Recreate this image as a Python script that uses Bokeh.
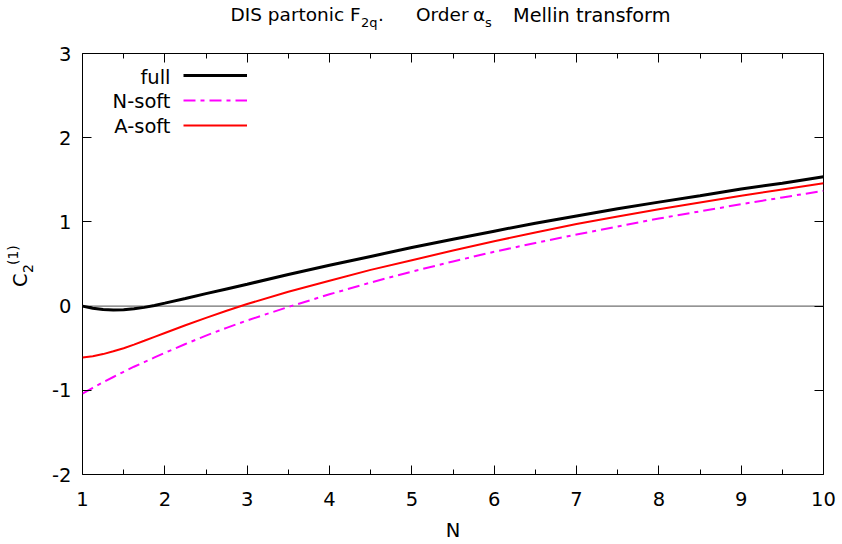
from bokeh.plotting import figure
from bokeh.layouts import column, row
from bokeh.models import (Range1d, FixedTicker, LinearAxis, Span, Label,
                          Legend, LegendItem, Div)
from bokeh.core.properties import value
from bokeh.embed import file_html
from bokeh.resources import INLINE

# ---------------- data ----------------
N = [1, 1.125, 1.25, 1.375, 1.5, 1.625, 1.75, 1.875, 2, 2.25, 2.5, 2.75, 3,
     3.5, 4, 4.5, 5, 5.5, 6, 6.5, 7, 7.5, 8, 8.5, 9, 9.5, 10]
full = [0.0, -0.025, -0.04, -0.046, -0.042, -0.031, -0.015, 0.008, 0.035,
        0.09, 0.148, 0.204, 0.26, 0.375, 0.485, 0.59, 0.695, 0.795, 0.89,
        0.985, 1.07, 1.155, 1.235, 1.31, 1.39, 1.46, 1.535]
n_soft = [-1.04, -0.97, -0.905, -0.842, -0.78, -0.72, -0.665, -0.61, -0.555,
          -0.45, -0.35, -0.258, -0.17, -0.01, 0.14, 0.28, 0.41, 0.53, 0.645,
          0.75, 0.85, 0.945, 1.04, 1.125, 1.21, 1.29, 1.37]
a_soft = [-0.61, -0.595, -0.57, -0.537, -0.50, -0.457, -0.412, -0.366, -0.32,
          -0.228, -0.14, -0.055, 0.025, 0.17, 0.30, 0.43, 0.545, 0.66, 0.77,
          0.875, 0.975, 1.065, 1.15, 1.23, 1.31, 1.385, 1.46]
series_names = ["full", "N-soft", "A-soft"]

x_ticks = [1, 2, 3, 4, 5, 6, 7, 8, 9, 10]
x_minor_ticks = [1.5, 2.5, 3.5, 4.5, 5.5, 6.5, 7.5, 8.5, 9.5]
x_tick_labels = ["1", "2", "3", "4", "5", "6", "7", "8", "9", "10"]
y_ticks = [-2, -1, 0, 1, 2, 3]
y_tick_labels = ["-2", "-1", "0", "1", "2", "3"]

x_label = "N"
# y label pieces: (text, kind)  kind: base / sub / sup
y_label_pieces = [("C", "base"), ("2", "sub"), ("(1)", "sup")]
# title pieces: (text, is_subscript)
title_pieces = [("DIS partonic F", False), ("2q", True), (".", False),
                ("Order", False), ("\u03b1", False), ("s", True),
                ("Mellin transform", False)]

FONT = "DejaVu Sans"
TICK_FS = "19.5px"
TITLE_H = 40
YLAB_W = 40

# ---------------- title (HTML, with real subscripts) ----------------
title_left = [230.5, 361, 378, 416, 473, 485, 513]
spans = []
for (txt, sub), left in zip(title_pieces, title_left):
    if sub:
        fs, top = 13, 15.5
    else:
        fs, top = 18.5, 6.3
    if txt == "Mellin transform":
        fs = 19.3
    spans.append(
        f'<span style="position:absolute;left:{left}px;top:{top}px;'
        f'font-size:{fs}px;line-height:1;white-space:pre;">{txt}</span>')
title_div = Div(
    text=('<div style="position:relative;width:842px;height:%dpx;'
          'font-family:\'DejaVu Sans\';color:#000;">' % TITLE_H)
         + "".join(spans) + "</div>",
    width=842, height=TITLE_H, margin=0)

# ---------------- y axis label (HTML, rotated, with sub/superscript) -------
# (font px, left px, top px) of each rotated piece inside the label box
ylab_geom = {"base": (19.5, 10.5, 247), "sub": (14, 21.2, 232.5),
             "sup": (14, 6.2, 225)}
yspans = []
for txt, kind in y_label_pieces:
    fs, left, top = ylab_geom[kind]
    yspans.append(
        f'<span style="position:absolute;left:{left}px;top:{top}px;'
        f'font-size:{fs}px;line-height:1;white-space:pre;'
        f'transform-origin:0 0;transform:rotate(-90deg);">{txt}</span>')
ylab_div = Div(
    text=('<div style="position:relative;width:%dpx;height:%dpx;'
          'font-family:\'DejaVu Sans\';color:#000;">' % (YLAB_W, 544 - TITLE_H))
         + "".join(yspans) + "</div>",
    width=YLAB_W, height=544 - TITLE_H, margin=0)

# ---------------- figure ----------------
p = figure(width=842 - YLAB_W, height=544 - TITLE_H, output_backend="svg",
           toolbar_location=None,
           x_range=Range1d(1, 10), y_range=Range1d(-2, 3),
           x_axis_type=None, y_axis_type=None,
           min_border_left=82 - YLAB_W, min_border_right=19,
           min_border_top=53 - TITLE_H, min_border_bottom=70)
p.xgrid.visible = False
p.ygrid.visible = False
p.outline_line_color = "black"
p.outline_line_width = 1
p.background_fill_color = "white"
p.border_fill_color = "white"


def make_axis(ticks, minor, labels, show, standoff=12):
    ax = LinearAxis(ticker=FixedTicker(ticks=ticks, minor_ticks=minor))
    ax.axis_line_color = None
    ax.major_tick_in = 9
    ax.major_tick_out = 0
    ax.minor_tick_in = 5
    ax.minor_tick_out = 0
    ax.major_tick_line_color = "black"
    ax.minor_tick_line_color = "black"
    ax.major_tick_line_width = 1
    ax.minor_tick_line_width = 1
    ax.major_label_text_font = FONT
    ax.major_label_text_color = "black"
    ax.major_label_text_font_style = "normal"
    ax.axis_label_text_font = FONT
    ax.axis_label_text_font_style = "normal"
    ax.axis_label_text_color = "black"
    ax.axis_label_text_font_size = TICK_FS
    if show:
        ax.major_label_text_font_size = TICK_FS
        ax.major_label_overrides = {t: l for t, l in zip(ticks, labels)}
        ax.major_label_standoff = standoff
    else:
        ax.major_label_overrides = {t: "" for t in ticks}
        ax.major_label_text_font_size = "1px"
        ax.major_label_standoff = 0
    return ax


xb = make_axis(x_ticks, x_minor_ticks, x_tick_labels, True, standoff=17)
xb.axis_label = x_label
xb.axis_label_standoff = 10
p.add_layout(xb, "below")
p.add_layout(make_axis(x_ticks, x_minor_ticks, x_tick_labels, False), "above")
p.add_layout(make_axis(y_ticks, [], y_tick_labels, True, standoff=11), "left")
p.add_layout(make_axis(y_ticks, [], y_tick_labels, False), "right")

# zero axis
zero = Span(location=0, dimension="width", line_color="#707070", line_width=1.2,
            level="underlay")
p.add_layout(zero)

# ---------------- curves ----------------
r_full = p.line(N, full, line_color="black", line_width=3)
r_n = p.line(N, n_soft, line_color="#ff00ff", line_width=2, line_dash="12 5 4 5")
r_a = p.line(N, a_soft, line_color="#ff0000", line_width=2)

# ---------------- legend (samples to the right of the labels) ----------------
legend = Legend(items=[LegendItem(label=value(" "), renderers=[r])
                       for r in (r_full, r_n, r_a)],
                location=(101, 339), glyph_width=64, glyph_height=20,
                label_height=20, label_width=1, label_standoff=0,
                spacing=5, padding=0, margin=0,
                border_line_color=None, background_fill_alpha=0,
                label_text_font_size="1px")
p.add_layout(legend)

for name, yb in zip(series_names, [397.5, 373, 348.5]):
    p.add_layout(Label(x=88, y=yb, x_units="screen", y_units="screen",
                       text=name, text_align="right",
                       text_baseline="alphabetic",
                       text_font=FONT, text_font_size=TICK_FS,
                       text_color="black"))

layout = column(title_div, row(ylab_div, p))
open("out.html", "w").write(file_html(layout, INLINE))
